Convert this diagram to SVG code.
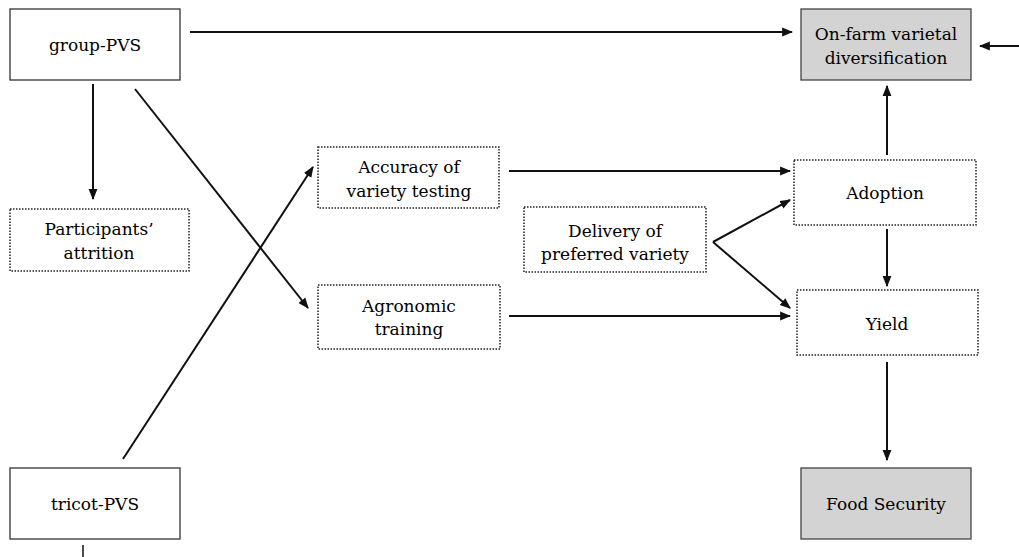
<svg xmlns="http://www.w3.org/2000/svg" width="1019" height="557" viewBox="0 0 1019 557">
<style>
.solid{fill:#fff;stroke:#333;stroke-width:1.3}
.gray{fill:#d3d3d3;stroke:#444;stroke-width:1.3}
.dot{fill:#fff;stroke:#222;stroke-width:1.5;stroke-dasharray:1.5 1.5}
text{font-family:"DejaVu Serif","Liberation Serif",serif;font-size:17px;fill:#000;text-anchor:middle}
.c line{stroke:#111;stroke-width:2;marker-end:url(#ah)}
</style>
<defs>
<marker id="ah" viewBox="0 0 10 10" refX="9" refY="5" markerWidth="5.5" markerHeight="5.5" orient="auto" markerUnits="strokeWidth">
<path d="M0,1 L10,5 L0,9 z" fill="#111"/>
</marker>
</defs>
<rect width="1019" height="557" fill="#fff"/>
<g class="c" id="connectors">
<line x1="190" y1="32" x2="792" y2="32"/>
<line x1="1019" y1="46" x2="980" y2="46"/>
<line x1="93" y1="84" x2="93" y2="199"/>
<line x1="135" y1="89" x2="308" y2="308"/>
<line x1="123" y1="459" x2="313" y2="167"/>
<line x1="509" y1="171" x2="790" y2="171"/>
<line x1="509" y1="316" x2="790" y2="316"/>
<line x1="713" y1="242" x2="790" y2="200"/>
<line x1="713" y1="242" x2="790" y2="308"/>
<line x1="887" y1="229" x2="887" y2="286"/>
<line x1="887" y1="155" x2="887" y2="86"/>
<line x1="887" y1="362" x2="887" y2="460"/>
<path d="M83,545 L83,557" stroke="#111" stroke-width="1.5"/>
</g>
<g id="group-pvs"><rect class="solid" x="10" y="9" width="170" height="71"/><text x="95" y="51">group-PVS</text></g>
<g id="onfarm"><rect class="gray" x="801" y="9" width="170" height="71"/><text x="886" y="40">On-farm varietal</text><text x="886" y="64">diversification</text></g>
<g id="participants"><rect class="dot" x="10" y="209" width="179" height="62"/><text x="99" y="235">Participants’</text><text x="99" y="259">attrition</text></g>
<g id="accuracy"><rect class="dot" x="318" y="147" width="181" height="61"/><text x="409" y="173">Accuracy of</text><text x="409" y="197">variety testing</text></g>
<g id="agronomic"><rect class="dot" x="318" y="285" width="182" height="64"/><text x="409" y="312">Agronomic</text><text x="409" y="335">training</text></g>
<g id="delivery"><rect class="dot" x="524" y="207" width="182" height="65"/><text x="615" y="237">Delivery of</text><text x="615" y="260">preferred variety</text></g>
<g id="adoption"><rect class="dot" x="794" y="160" width="182" height="65"/><text x="885" y="199">Adoption</text></g>
<g id="yield"><rect class="dot" x="797" y="290" width="181" height="65"/><text x="887" y="330">Yield</text></g>
<g id="tricot-pvs"><rect class="solid" x="10" y="468" width="170" height="71"/><text x="95" y="510">tricot-PVS</text></g>
<g id="food"><rect class="gray" x="801" y="468" width="170" height="71"/><text x="886" y="510">Food Security</text></g>
</svg>
